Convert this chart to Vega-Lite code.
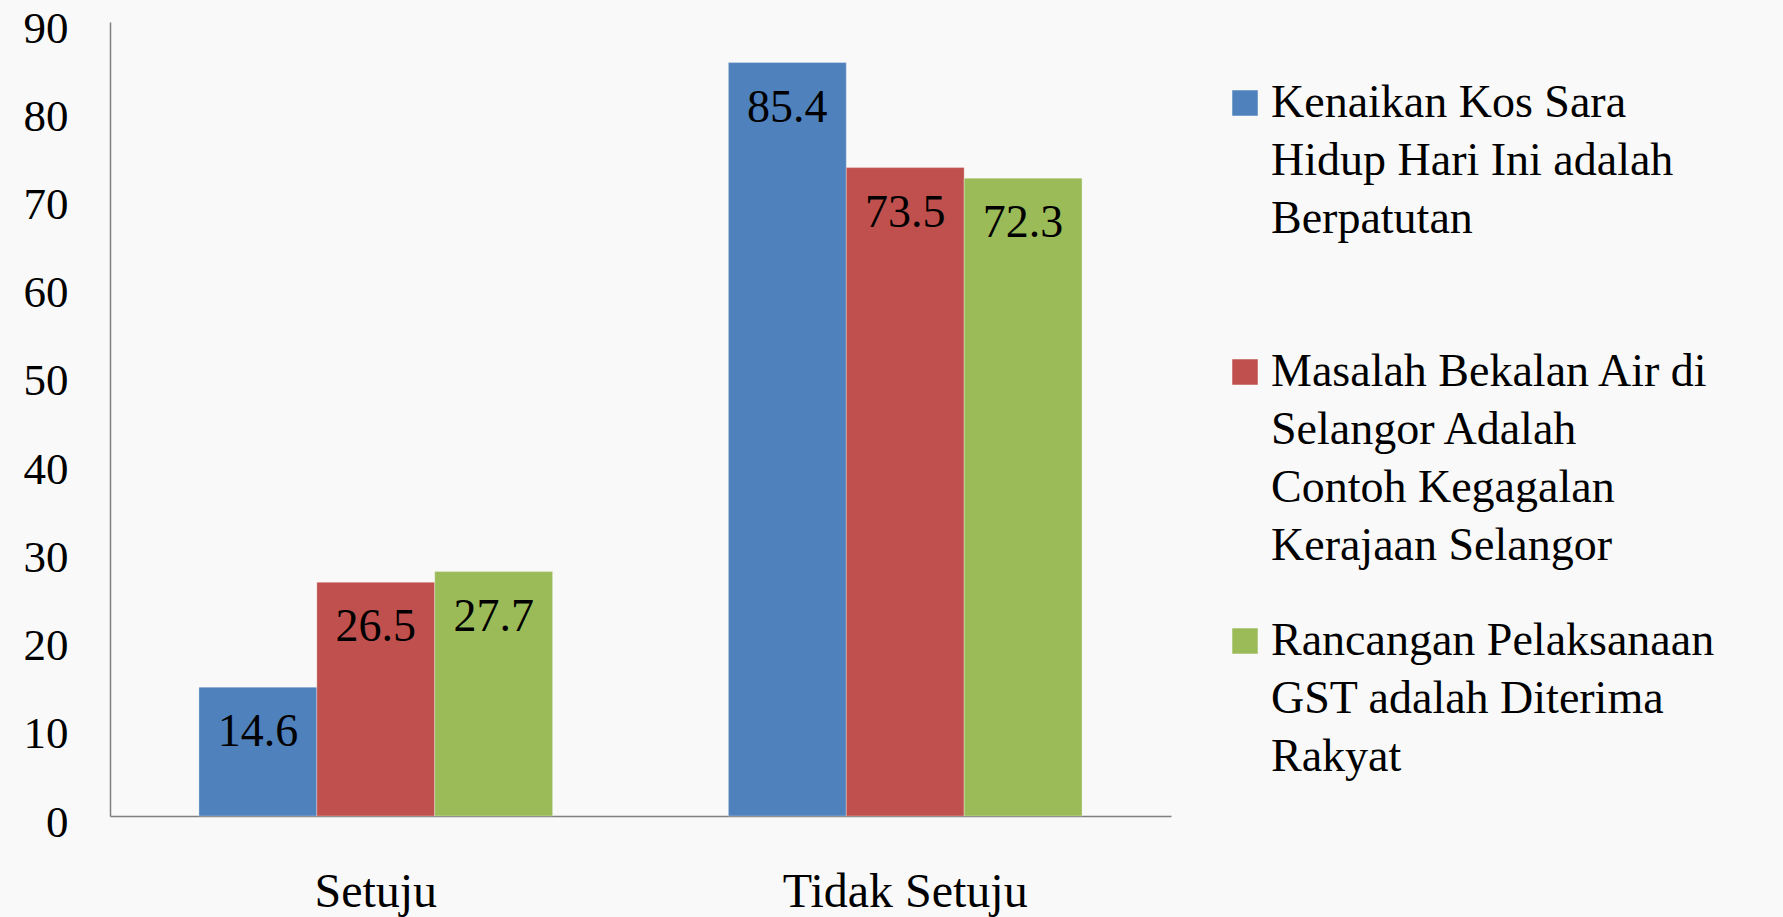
{
  "$schema": "https://vega.github.io/schema/vega-lite/v6.json",
  "width": 1061,
  "height": 794,
  "autosize": {"type": "none"},
  "padding": {"left": 110, "top": 22, "right": 612, "bottom": 101},
  "background": "#f9f9f9",
  "config": {
    "view": {"stroke": null},
    "font": "Liberation Serif",
    "style": {"guide-label": {"lineHeight": 58, "dy": 14}}
  },
  "data": {
    "values": [
      {"category": "Setuju", "series": "Kenaikan Kos Sara Hidup Hari Ini adalah Berpatutan", "value": 14.6},
      {"category": "Setuju", "series": "Masalah Bekalan Air di Selangor Adalah Contoh Kegagalan Kerajaan Selangor", "value": 26.5},
      {"category": "Setuju", "series": "Rancangan Pelaksanaan GST adalah Diterima Rakyat", "value": 27.7},
      {"category": "Tidak Setuju", "series": "Kenaikan Kos Sara Hidup Hari Ini adalah Berpatutan", "value": 85.4},
      {"category": "Tidak Setuju", "series": "Masalah Bekalan Air di Selangor Adalah Contoh Kegagalan Kerajaan Selangor", "value": 73.5},
      {"category": "Tidak Setuju", "series": "Rancangan Pelaksanaan GST adalah Diterima Rakyat", "value": 72.3}
    ]
  },
  "encoding": {
    "x": {
      "field": "category", "type": "nominal", "sort": ["Setuju", "Tidak Setuju"],
      "scale": {"paddingInner": 0.332, "paddingOuter": 0.168},
      "axis": {"title": null, "labelAngle": 0, "ticks": false, "labelFontSize": 48, "labelPadding": 38, "labelLimit": 600, "labelColor": "#000000", "domainColor": "#7f7f7f", "domainWidth": 1.5, "labelFont": "Liberation Serif"}
    },
    "xOffset": {
      "field": "series", "type": "nominal",
      "sort": ["Kenaikan Kos Sara Hidup Hari Ini adalah Berpatutan", "Masalah Bekalan Air di Selangor Adalah Contoh Kegagalan Kerajaan Selangor", "Rancangan Pelaksanaan GST adalah Diterima Rakyat"],
      "scale": {"paddingInner": 0, "paddingOuter": 0}
    },
    "y": {
      "field": "value", "type": "quantitative",
      "scale": {"domain": [0, 90], "nice": false},
      "axis": {"title": null, "values": [0, 10, 20, 30, 40, 50, 60, 70, 80, 90], "ticks": false, "grid": false, "labelFontSize": 45, "labelPadding": 42, "labelOffset": -8, "labelColor": "#000000", "domainColor": "#7f7f7f", "domainWidth": 1.5, "labelFont": "Liberation Serif"}
    }
  },
  "layer": [
    {
      "mark": {"type": "bar", "stroke": "#ffffff", "strokeWidth": 0.5, "strokeOpacity": 0.6},
      "encoding": {
        "color": {
          "field": "series", "type": "nominal",
          "scale": {
            "domain": ["Kenaikan Kos Sara Hidup Hari Ini adalah Berpatutan", "Masalah Bekalan Air di Selangor Adalah Contoh Kegagalan Kerajaan Selangor", "Rancangan Pelaksanaan GST adalah Diterima Rakyat"],
            "range": ["#4f81bd", "#c0504d", "#9bbb59"]
          },
          "legend": {
            "orient": "none",
            "legendX": 1112,
            "legendY": 58,
            "title": null,
            "symbolType": "square",
            "symbolSize": 650,
            "symbolStrokeWidth": 0,
            "symbolOpacity": 1,
            "labelFont": "Liberation Serif",
            "labelFontSize": 46,
            "labelColor": "#000000",
            "labelLimit": 700,
            "labelOffset": 3,
            "labelBaseline": "alphabetic",
            "gridAlign": "all",
            "rowPadding": 49,
            "labelExpr": "datum.label == 'Kenaikan Kos Sara Hidup Hari Ini adalah Berpatutan' ? ['Kenaikan Kos Sara', 'Hidup Hari Ini adalah', 'Berpatutan'] : datum.label == 'Masalah Bekalan Air di Selangor Adalah Contoh Kegagalan Kerajaan Selangor' ? ['Masalah Bekalan Air di', 'Selangor Adalah', 'Contoh Kegagalan', 'Kerajaan Selangor'] : ['Rancangan Pelaksanaan', 'GST adalah Diterima', 'Rakyat']"
          }
        }
      }
    },
    {
      "mark": {"type": "text", "baseline": "middle", "dy": 45, "fontSize": 46, "font": "Liberation Serif", "color": "#000000"},
      "encoding": {"text": {"field": "value", "type": "quantitative", "format": ".1f"}}
    }
  ]
}
